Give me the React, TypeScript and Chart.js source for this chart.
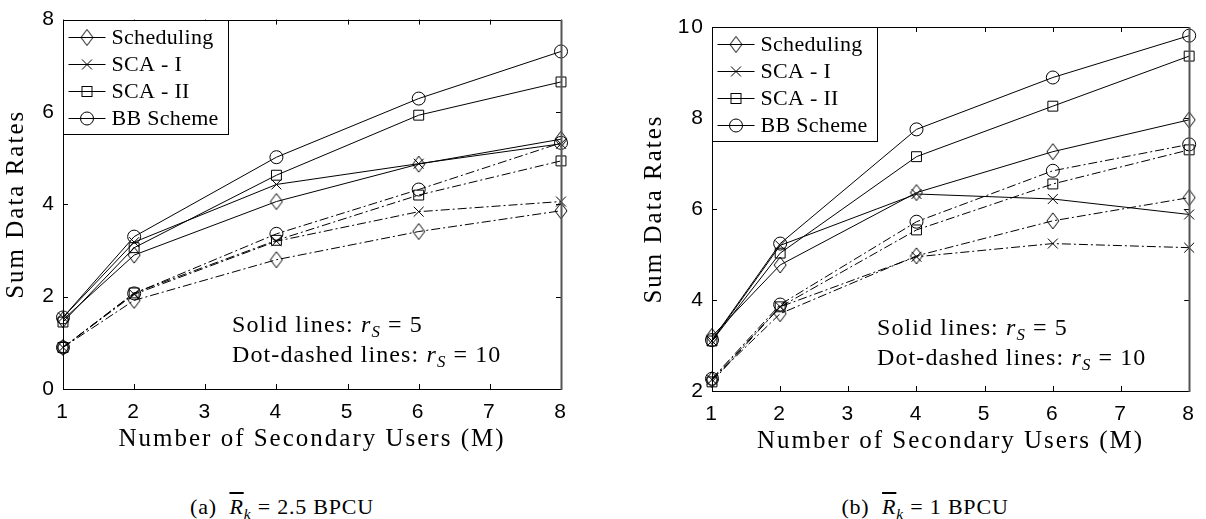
import React, { useEffect, useRef } from "react";
import { Chart, registerables } from "chart.js";

Chart.register(...registerables);

// ---------------- data ----------------
const xValues = [1, 2, 4, 6, 8];
const xTickValues = [1, 2, 3, 4, 5, 6, 7, 8];
const seriesNames = ["Scheduling", "SCA - I", "SCA - II", "BB Scheme"];
const xTitle = "Number of Secondary Users (M)";
const yTitle = "Sum Data Rates";

// (a) R_k = 2.5 BPCU
const yTicksA = [0, 2, 4, 6, 8];
const schedSolidA = [1.5, 2.9, 4.06, 4.87, 5.41];
const sca1SolidA = [1.55, 3.18, 4.43, 4.88, 5.31];
const sca2SolidA = [1.45, 3.06, 4.63, 5.93, 6.65];
const bbSolidA = [1.55, 3.3, 5.02, 6.29, 7.31];
const schedDashA = [0.9, 1.92, 2.8, 3.41, 3.86];
const sca1DashA = [0.9, 2.05, 3.2, 3.84, 4.06];
const sca2DashA = [0.9, 2.08, 3.22, 4.2, 4.94];
const bbDashA = [0.9, 2.07, 3.36, 4.32, 5.33];

// (b) R_k = 1 BPCU
const yTicksB = [2, 4, 6, 8, 10];
const schedSolidB = [3.2, 4.77, 6.36, 7.26, 7.96];
const sca1SolidB = [3.1, 5.2, 6.33, 6.22, 5.88];
const sca2SolidB = [3.1, 5.03, 7.15, 8.26, 9.36];
const bbSolidB = [3.12, 5.24, 7.75, 8.89, 9.81];
const schedDashB = [2.25, 3.7, 4.97, 5.74, 6.25];
const sca1DashB = [2.25, 3.85, 4.95, 5.24, 5.15];
const sca2DashB = [2.2, 3.85, 5.54, 6.55, 7.3];
const bbDashB = [2.27, 3.9, 5.72, 6.84, 7.42];

const captionA = "2.5 BPCU";
const captionB = "1 BPCU";

// ---------------- helpers ----------------
const SERIF = '"Liberation Serif", "Times New Roman", serif';
const SANS = '"Liberation Sans", Arial, Helvetica, sans-serif';
const markerKinds = ["diamond", "cross", "square", "circle"];

function makeDiamond(): HTMLCanvasElement {
  const c = document.createElement("canvas");
  c.width = 14;
  c.height = 18;
  const g = c.getContext("2d")!;
  g.strokeStyle = "#000";
  g.lineWidth = 1;
  g.beginPath();
  g.moveTo(7, 1);
  g.lineTo(13, 9);
  g.lineTo(7, 17);
  g.lineTo(1, 9);
  g.closePath();
  g.stroke();
  return c;
}

function drawMarker(ctx: CanvasRenderingContext2D, kind: string, x: number, y: number, diamond: HTMLCanvasElement) {
  ctx.save();
  ctx.strokeStyle = "#000";
  ctx.lineWidth = 1;
  ctx.beginPath();
  if (kind === "diamond") {
    ctx.drawImage(diamond, x - diamond.width / 2, y - diamond.height / 2);
  } else if (kind === "cross") {
    const s = 5;
    ctx.moveTo(x - s, y - s);
    ctx.lineTo(x + s, y + s);
    ctx.moveTo(x + s, y - s);
    ctx.lineTo(x - s, y + s);
    ctx.stroke();
  } else if (kind === "square") {
    ctx.strokeRect(x - 5, y - 5, 10, 10);
  } else {
    ctx.arc(x, y, 6.5, 0, Math.PI * 2);
    ctx.stroke();
  }
  ctx.restore();
}

function buildDatasets(solid: number[][], dashed: number[][], diamond: HTMLCanvasElement) {
  const styles: any[] = [diamond, "crossRot", "rect", "circle"];
  const radii = [7, 7, 7, 6.5];
  const out: any[] = [];
  [solid, dashed].forEach((group, gi) => {
    group.forEach((vals, si) => {
      out.push({
        label: seriesNames[si] + (gi ? " (dot-dashed)" : " (solid)"),
        data: xValues.map((x, i) => ({ x, y: vals[i] })),
        borderColor: "#000",
        borderWidth: 1,
        borderDash: gi ? [9, 3, 2, 3] : [],
        pointStyle: styles[si],
        pointRadius: radii[si],
        pointBorderColor: "#000",
        pointBackgroundColor: "rgba(0,0,0,0)",
        pointBorderWidth: 1,
        fill: false,
        tension: 0,
        clip: false,
      });
    });
  });
  return out;
}

function framePlugin(diamond: HTMLCanvasElement) {
  return {
    id: "frameLegend",
    beforeDraw(chart: any) {
      chart.ctx.letterSpacing = "2px";
    },
    beforeDatasetsDraw(chart: any) {
      chart.ctx.letterSpacing = "0px";
    },
    afterDraw(chart: any) {
      const ctx: CanvasRenderingContext2D = chart.ctx;
      const { left, right, top, bottom } = chart.chartArea;
      const xs = chart.scales.x;
      const ys = chart.scales.y;
      ctx.save();
      ctx.letterSpacing = "0px";
      ctx.strokeStyle = "#000";
      ctx.lineWidth = 1;
      // inward ticks
      const tl = 5;
      ctx.beginPath();
      xs.ticks.forEach((t: any) => {
        const px = Math.round(xs.getPixelForValue(t.value)) + 0.5;
        ctx.moveTo(px, bottom);
        ctx.lineTo(px, bottom - tl);
        ctx.moveTo(px, top);
        ctx.lineTo(px, top + tl);
      });
      ys.ticks.forEach((t: any) => {
        const py = Math.round(ys.getPixelForValue(t.value)) + 0.5;
        ctx.moveTo(left, py);
        ctx.lineTo(left + tl, py);
        ctx.moveTo(right, py);
        ctx.lineTo(right - tl, py);
      });
      ctx.stroke();
      // frame
      ctx.beginPath();
      ctx.moveTo(Math.round(left) + 0.5, Math.round(top) + 0.5);
      ctx.lineTo(Math.round(right) + 0.5, Math.round(top) + 0.5);
      ctx.moveTo(Math.round(left) + 0.5, Math.round(top) + 0.5);
      ctx.lineTo(Math.round(left) + 0.5, Math.round(bottom) + 0.5);
      ctx.lineTo(Math.round(right) + 0.5, Math.round(bottom) + 0.5);
      ctx.stroke();
      ctx.strokeStyle = "#555";
      ctx.lineWidth = 2;
      ctx.beginPath();
      ctx.moveTo(Math.round(right) + 0.5, Math.round(top));
      ctx.lineTo(Math.round(right) + 0.5, Math.round(bottom) + 1);
      ctx.stroke();

      // legend
      ctx.font = "22px " + SERIF;
      ctx.letterSpacing = "0.3px";
      const padTop = 16;
      const rowStep = 27.3;
      const lineStart = 5;
      const lineLen = 37;
      const gap = 6;
      const padRight = 10;
      let maxW = 0;
      seriesNames.forEach((n) => (maxW = Math.max(maxW, ctx.measureText(n).width)));
      const bx = Math.round(left) + 0.5;
      const by = Math.round(top) + 0.5;
      const bw = Math.round(lineStart + lineLen + gap + maxW + padRight);
      const bh = Math.round(padTop * 2 + rowStep * (seriesNames.length - 1));
      ctx.fillStyle = "#fff";
      ctx.fillRect(bx, by, bw, bh);
      ctx.strokeStyle = "#000";
      ctx.lineWidth = 1;
      ctx.strokeRect(bx, by, bw, bh);
      seriesNames.forEach((name, i) => {
        const cy = Math.round(by + padTop + rowStep * i) + 0.5;
        const x0 = bx + lineStart;
        const x1 = x0 + lineLen;
        ctx.beginPath();
        ctx.moveTo(x0, cy);
        ctx.lineTo(x1, cy);
        ctx.stroke();
        drawMarker(ctx, markerKinds[i], (x0 + x1) / 2, cy, diamond);
        ctx.fillStyle = "#000";
        ctx.textBaseline = "middle";
        ctx.textAlign = "left";
        ctx.fillText(name, x1 + gap, cy + 1);
      });
      ctx.restore();
    },
  };
}

type Layout = {
  yTicks: number[];
  yAxisWidth: number;
  padTop: number;
  padRight: number;
  xAxisHeight: number;
  yTitlePad: number;
  xTitlePad: number;
};

function makeChart(canvas: HTMLCanvasElement, solid: number[][], dashed: number[][], lay: Layout, diamond: HTMLCanvasElement) {
  const yt = lay.yTicks;
  return new Chart(canvas, {
    type: "line",
    data: { datasets: buildDatasets(solid, dashed, diamond) },
    options: {
      animation: false,
      responsive: false,
      maintainAspectRatio: false,
      events: [],
      layout: { padding: { left: 0, top: lay.padTop, right: lay.padRight, bottom: 0 } },
      plugins: { legend: { display: false }, tooltip: { enabled: false } },
      scales: {
        x: {
          type: "linear",
          min: xTickValues[0],
          max: xTickValues[xTickValues.length - 1],
          afterBuildTicks: (s: any) => {
            s.ticks = xTickValues.map((v) => ({ value: v }));
          },
          afterFit: (s: any) => {
            s.height = lay.xAxisHeight;
          },
          grid: { display: false, drawTicks: false },
          border: { display: false },
          ticks: { color: "#000", font: { family: SANS, size: 21 }, padding: 11, maxRotation: 0, autoSkip: false },
          title: {
            display: true,
            text: xTitle,
            color: "#000",
            font: { family: SERIF, size: 25 },
            padding: { top: 0, bottom: lay.xTitlePad },
          },
        },
        y: {
          type: "linear",
          min: yt[0],
          max: yt[yt.length - 1],
          afterBuildTicks: (s: any) => {
            s.ticks = yt.map((v) => ({ value: v }));
          },
          afterFit: (s: any) => {
            s.width = lay.yAxisWidth;
          },
          grid: { display: false, drawTicks: false },
          border: { display: false },
          ticks: { color: "#000", font: { family: SANS, size: 21 }, padding: 7, autoSkip: false },
          title: {
            display: true,
            text: yTitle,
            color: "#000",
            font: { family: SERIF, size: 25 },
            padding: { top: lay.yTitlePad, bottom: 0 },
          },
        },
      },
    } as any,
    plugins: [framePlugin(diamond)],
  });
}

const subStyle: React.CSSProperties = { fontSize: "70%", verticalAlign: "-0.3em", lineHeight: 0, fontStyle: "italic" };

function Annotation({ left, top }: { left: number; top: number }) {
  return (
    <div
      style={{
        position: "absolute",
        left,
        top,
        fontFamily: SERIF,
        fontSize: 24,
        lineHeight: "30px",
        letterSpacing: "1.1px",
        color: "#000",
        whiteSpace: "nowrap",
      }}
    >
      <div>
        Solid lines: <i>r</i>
        <sub style={subStyle}>S</sub> = 5
      </div>
      <div>
        Dot-dashed lines: <i>r</i>
        <sub style={subStyle}>S</sub> = 10
      </div>
    </div>
  );
}

function Caption({ center, tag, value }: { center: number; tag: string; value: string }) {
  return (
    <div
      style={{
        position: "absolute",
        left: center - 200,
        top: 494,
        width: 400,
        textAlign: "center",
        fontFamily: SERIF,
        fontSize: 22,
        lineHeight: "26px",
        letterSpacing: "0.8px",
        color: "#000",
        whiteSpace: "nowrap",
      }}
    >
      ({tag})&nbsp;&nbsp;
      <i style={{ textDecoration: "overline" }}>R</i>
      <sub style={subStyle}>k</sub> = {value}
    </div>
  );
}

export default function App() {
  const refA = useRef<HTMLCanvasElement | null>(null);
  const refB = useRef<HTMLCanvasElement | null>(null);

  useEffect(() => {
    const diamond = makeDiamond();
    const chartA = makeChart(
      refA.current!,
      [schedSolidA, sca1SolidA, sca2SolidA, bbSolidA],
      [schedDashA, sca1DashA, sca2DashA, bbDashA],
      { yTicks: yTicksA, yAxisWidth: 63, padTop: 16, padRight: 39, xAxisHeight: 81, yTitlePad: 1.5, xTitlePad: 15.5 },
      diamond
    );
    const chartB = makeChart(
      refB.current!,
      [schedSolidB, sca1SolidB, sca2SolidB, bbSolidB],
      [schedDashB, sca1DashB, sca2DashB, bbDashB],
      { yTicks: yTicksB, yAxisWidth: 106, padTop: 27, padRight: 9, xAxisHeight: 79, yTitlePad: 33.5, xTitlePad: 13.5 },
      diamond
    );
    return () => {
      chartA.destroy();
      chartB.destroy();
    };
  }, []);

  return (
    <div style={{ position: "absolute", left: 0, top: 0, width: 1206, height: 519, background: "#fff", overflow: "hidden" }}>
      <canvas ref={refA} width={600} height={470} style={{ position: "absolute", left: 0, top: 0 }} />
      <canvas ref={refB} width={600} height={470} style={{ position: "absolute", left: 606, top: 0 }} />
      <Annotation left={232} top={309} />
      <Annotation left={877} top={312} />
      <Caption center={282} tag="a" value={captionA} />
      <Caption center={925} tag="b" value={captionB} />
    </div>
  );
}
